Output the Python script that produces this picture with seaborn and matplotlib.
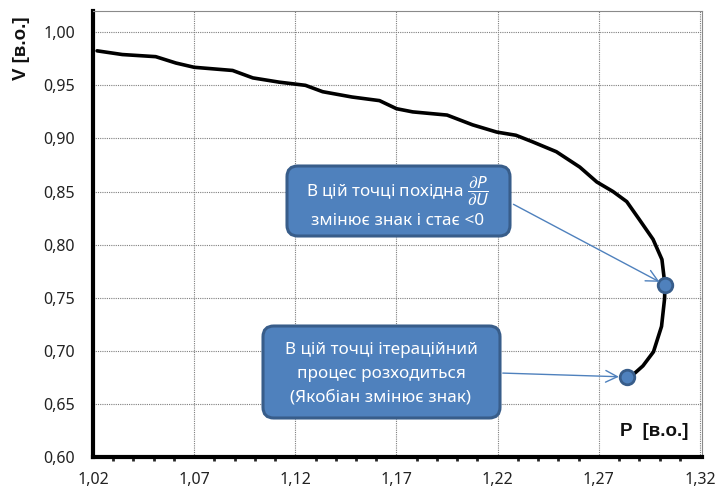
import matplotlib
matplotlib.use("Agg")
import matplotlib.pyplot as plt
import seaborn as sns
import pandas as pd
import numpy as np
from matplotlib.patches import FancyBboxPatch
from matplotlib.ticker import FuncFormatter, MultipleLocator

# ---- data ----
P_values = [1.022, 1.0345, 1.051, 1.061, 1.070, 1.089, 1.099, 1.112, 1.125, 1.1335,
            1.148, 1.1616, 1.170, 1.178, 1.195, 1.2076, 1.2195, 1.229, 1.237, 1.249,
            1.2606, 1.269, 1.277, 1.2838, 1.290, 1.2968, 1.3012, 1.3027, 1.3025, 1.301,
            1.297, 1.2918, 1.2878, 1.2838]
V_values = [0.9825, 0.979, 0.977, 0.971, 0.967, 0.964, 0.957, 0.953, 0.950, 0.944,
            0.939, 0.9356, 0.928, 0.925, 0.922, 0.9128, 0.906, 0.903, 0.897, 0.8875,
            0.873, 0.859, 0.850, 0.8405, 0.8237, 0.805, 0.786, 0.7617, 0.749, 0.723,
            0.699, 0.6858, 0.679, 0.6755]
marker_P = [1.3027, 1.2838]
marker_V = [0.7617, 0.6755]
x_ticks = [1.02, 1.07, 1.12, 1.17, 1.22, 1.27, 1.32]
y_ticks = [0.60, 0.65, 0.70, 0.75, 0.80, 0.85, 0.90, 0.95, 1.00]
box1_lines = ["В цій точці похідна $\\dfrac{\\partial P}{\\partial U}$", "змінює знак і стає <0"]
box2_lines = ["В цій точці ітераційний", "процес розходиться", "(Якобіан змінює знак)"]
x_label = "P  [в.о.]"
y_label = "V [в.о.]"

sns.set_theme(style="white")
FONT = ['Noto Sans', 'DejaVu Sans']
BOLD_FONT = ['Liberation Sans', 'DejaVu Sans']
plt.rcParams['font.family'] = FONT
plt.rcParams['mathtext.fontset'] = 'custom'
plt.rcParams['mathtext.it'] = 'Noto Sans:italic'
plt.rcParams['mathtext.rm'] = 'Noto Sans'

W, H = 720, 493
fig = plt.figure(figsize=(W / 100, H / 100), dpi=100)
ax = fig.add_axes([93 / W, 1 - 457 / H, (702 - 93) / W, (457 - 11) / H])

df = pd.DataFrame({"P": P_values, "V": V_values})
sns.lineplot(data=df, x="P", y="V", sort=False, estimator=None, errorbar=None,
             color="black", linewidth=2.6, ax=ax)
sns.scatterplot(x=marker_P, y=marker_V, s=110, color="#4f81bd", edgecolor="#385d8a",
                linewidth=2, ax=ax, zorder=5)

ax.set_xlim(1.02, 1.321)
ax.set_ylim(0.60, 1.02)
ax.set_xticks(x_ticks)
ax.set_yticks(y_ticks)
ax.xaxis.set_minor_locator(MultipleLocator(0.01))
fmt = FuncFormatter(lambda v, p: f"{v:.2f}".replace(".", ","))
ax.xaxis.set_major_formatter(fmt)
ax.yaxis.set_major_formatter(fmt)
ax.tick_params(axis="both", which="major", labelsize=11.5, colors="black",
               direction="out", length=4, width=2.5, labelcolor="#222222")
ax.tick_params(axis="y", which="major", pad=9)
ax.tick_params(axis="x", which="minor", direction="out", length=3, width=2, bottom=True)
ax.tick_params(axis="x", which="major", pad=7)

ax.grid(True, which="major", linestyle=(0, (1, 1)), color="#7f7f7f", linewidth=0.8)
for s in ["left", "bottom"]:
    ax.spines[s].set_color("black")
    ax.spines[s].set_linewidth(3)
for s in ["top", "right"]:
    ax.spines[s].set_color("#8a8a8a")
    ax.spines[s].set_linewidth(0.8)

ax.set_xlabel("")
ax.set_ylabel("")
fig.text(21 / W, 1 - 48 / H, y_label, rotation=90, ha="center", va="center",
         fontsize=13.5, fontweight="bold", color="#111111", family=BOLD_FONT)
fig.text(688 / W, 1 - 432 / H, x_label, ha="right", va="center",
         fontsize=13.5, fontweight="bold", color="#111111", family=BOLD_FONT)

def fig_box(x0, y0, x1, y1):
    p = FancyBboxPatch((x0 / W, 1 - y1 / H), (x1 - x0) / W, (y1 - y0) / H,
                       boxstyle="round,pad=0,rounding_size=0.015",
                       transform=fig.transFigure, facecolor="#4f81bd",
                       edgecolor="#385d8a", linewidth=2.2, zorder=10, mutation_aspect=W / H)
    fig.add_artist(p)

fig_box(287, 166, 510, 236)
fig_box(263, 326, 500, 418)

fig.text(398 / W, 1 - 191 / H, box1_lines[0], ha="center", va="center", color="white",
         fontsize=12.3, zorder=11)
fig.text(398 / W, 1 - 221 / H, box1_lines[1], ha="center", va="center", color="white",
         fontsize=12.3, zorder=11)
for yy, line in zip([350, 374, 398], box2_lines):
    fig.text(381 / W, 1 - yy / H, line, ha="center", va="center", color="white",
             fontsize=12.3, zorder=11)

# arrows
ax.annotate("", xy=(marker_P[0] - 0.0015, marker_V[0] + 0.002),
            xytext=(511 / W, 1 - 203 / H), textcoords="figure fraction",
            arrowprops=dict(arrowstyle="->,head_length=0.7,head_width=0.35",
                            color="#4f81bd", lw=1), zorder=6)
ax.annotate("", xy=(marker_P[1] - 0.0025, marker_V[1]),
            xytext=(500 / W, 1 - 373 / H), textcoords="figure fraction",
            arrowprops=dict(arrowstyle="->,head_length=0.7,head_width=0.35",
                            color="#4f81bd", lw=1), zorder=6)

fig.savefig("out.png", dpi=100)
